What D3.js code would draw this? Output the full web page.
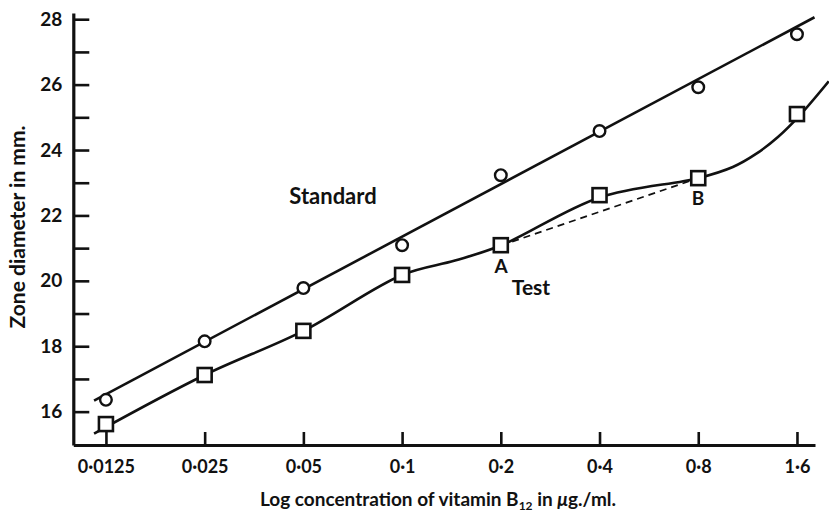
<!DOCTYPE html>
<html>
<head>
<meta charset="utf-8">
<script src="https://cdn.jsdelivr.net/npm/d3@7"></script>
<style>
  body { margin: 0; background: #fff; }
  svg text { font-family: Lato, "Open Sans", sans-serif; font-weight: 700; fill: #111; }
</style>
</head>
<body>
<svg id="chart" width="829" height="513"></svg>
<script>
// concentrations (ug/ml) on the x axis
var concentrations = [0.0125, 0.025, 0.05, 0.1, 0.2, 0.4, 0.8, 1.6];
var concLabels = ["0·0125", "0·025", "0·05", "0·1", "0·2", "0·4", "0·8", "1·6"];
// measured zone diameters (mm)
var standardValues = [16.36, 18.15, 19.78, 21.09, 23.23, 24.58, 25.92, 27.54];
var testValues = [15.62, 17.12, 18.47, 20.18, 21.09, 22.62, 23.14, 25.10];
// fitted straight line for the standard
var standardFit = [[0.0115, 16.34], [1.81, 28.06]];
// hand drawn curve through the test points
var testCurve = [[0.0115, 15.33], [0.025, 17.12], [0.05, 18.47], [0.1, 20.18],
  [0.145, 20.62], [0.2, 21.08], [0.4, 22.55], [0.8, 23.14],
  [1.02, 23.48], [1.2, 23.88], [1.4, 24.4], [1.635, 25.07], [2.0, 26.1]];
// dashed line A-B
var dashedAB = [[0.2, 21.08], [0.8, 23.14]];
var yTicks = [16, 17, 18, 19, 20, 21, 22, 23, 24, 25, 26, 27, 28];

var svg = d3.select("#chart");

var x = d3.scaleLog().base(2).domain([0.00994, 1.816]).range([73.3, 815]);
var y = d3.scaleLinear().domain([14.98, 28.19]).range([445, 13]);

var line = d3.line().x(function(d){ return x(d[0]); }).y(function(d){ return y(d[1]); });

// axes
var yAxis = svg.append("g")
    .attr("transform", "translate(73.3,0)")
    .call(d3.axisLeft(y).tickValues(yTicks)
        .tickFormat(function(d){ return d % 2 == 0 ? d : ""; })
        .tickSizeInner(-16).tickSizeOuter(0).tickPadding(11));
yAxis.selectAll("text").style("font-size", "19px");

var xAxis = svg.append("g")
    .attr("transform", "translate(0,445)")
    .call(d3.axisBottom(x).tickValues(concentrations)
        .tickFormat(function(d, i){ return concLabels[i]; })
        .tickSizeInner(-13).tickSizeOuter(0).tickPadding(15));
xAxis.selectAll("text").style("font-size", "18px");

svg.selectAll(".domain").attr("stroke", "#111").attr("stroke-width", 3.2);
svg.selectAll(".tick line").attr("stroke", "#111").attr("stroke-width", 2.6);

// lines
svg.append("path").datum(standardFit).attr("d", line)
    .attr("fill", "none").attr("stroke", "#111").attr("stroke-width", 2.6);
svg.append("path").datum(testCurve).attr("d", line.curve(d3.curveCatmullRom.alpha(0.5)))
    .attr("fill", "none").attr("stroke", "#111").attr("stroke-width", 2.6);
line.curve(d3.curveLinear);
svg.append("path").datum(dashedAB).attr("d", line)
    .attr("fill", "none").attr("stroke", "#111").attr("stroke-width", 1.8)
    .attr("stroke-dasharray", "7,5");

// markers
svg.selectAll("circle.std").data(standardValues).enter().append("circle")
    .attr("class", "std")
    .attr("cx", function(d, i){ return x(concentrations[i]); })
    .attr("cy", function(d){ return y(d); })
    .attr("r", 5.8)
    .attr("fill", "#fff").attr("stroke", "#111").attr("stroke-width", 2.4);

svg.selectAll("rect.test").data(testValues).enter().append("rect")
    .attr("class", "test")
    .attr("x", function(d, i){ return x(concentrations[i]) - 7; })
    .attr("y", function(d){ return y(d) - 7; })
    .attr("width", 14).attr("height", 14)
    .attr("fill", "#fff").attr("stroke", "#111").attr("stroke-width", 2.6);

// labels
svg.append("text").attr("x", 333).attr("y", 204).attr("text-anchor", "middle")
    .style("font-size", "22px").text("Standard");
svg.append("text").attr("x", 531).attr("y", 295).attr("text-anchor", "middle")
    .style("font-size", "21px").text("Test");
svg.append("text").attr("x", 501).attr("y", 273).attr("text-anchor", "middle")
    .style("font-size", "19px").text("A");
svg.append("text").attr("x", 698).attr("y", 205).attr("text-anchor", "middle")
    .style("font-size", "19px").text("B");

svg.append("text")
    .attr("transform", "translate(25,227) rotate(-90)")
    .attr("text-anchor", "middle")
    .style("font-size", "21px")
    .text("Zone diameter in mm.");

var xt = svg.append("text").attr("x", 438).attr("y", 506).attr("text-anchor", "middle")
    .style("font-size", "19px");
xt.append("tspan").text("Log concentration of vitamin B");
xt.append("tspan").attr("dy", 4).style("font-size", "12px").text("12");
xt.append("tspan").attr("dy", -4).text(" in ");
xt.append("tspan").style("font-style", "italic").text("μ");
xt.append("tspan").text("g./ml.");
</script>
</body>
</html>
